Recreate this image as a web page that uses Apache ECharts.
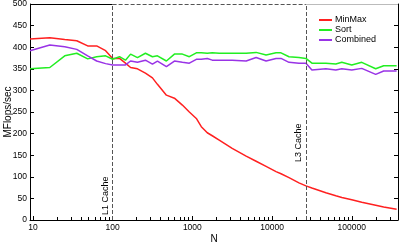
<!DOCTYPE html>
<html><head><meta charset="utf-8">
<script src="https://cdn.jsdelivr.net/npm/echarts@6/dist/echarts.min.js"></script>
<style>html,body{margin:0;padding:0;background:#fff}#c{width:399px;height:244px}</style>
</head><body><div id="c"></div>
<script>
const nValues = [9.2, 16.3, 25.1, 35.5, 48.7, 63.1, 81.7, 100, 122, 145, 168, 205, 258, 316, 365, 473, 596, 750, 917, 1122, 1296, 1540, 1778, 2175, 3162, 4732, 6310, 8414, 11220, 12960, 16310, 21750, 26610, 31620, 47320, 63100, 74990, 100000, 133400, 199500, 251200, 365200];
const minMax = [419, 422, 418, 415, 403, 403, 392, 374, 374, 363, 353, 350, 340, 329, 314, 289, 282, 266, 250, 235, 216, 202, 195, 185, 166, 148, 136, 124, 112, 107, 98, 86, 79, 74, 63, 56, 52, 47, 41, 34, 30, 25];
const sortV = [350, 353, 380, 386, 373, 378, 380, 372, 378, 370, 384, 376, 386, 378, 380, 368, 384, 384, 378, 387, 387, 386, 387, 386, 386, 386, 388, 382, 387, 387, 378, 376, 374, 363, 363, 361, 365, 359, 365, 350, 357, 357];
const combined = [392, 405, 401, 395, 380, 368, 362, 359, 359, 359, 368, 365, 370, 361, 368, 355, 368, 365, 363, 372, 372, 374, 370, 370, 370, 368, 376, 368, 374, 374, 365, 363, 363, 347, 350, 347, 350, 347, 351, 337, 345, 345];
const seriesNames = ['MinMax', 'Sort', 'Combined'];
const majorX = [10, 100, 1000, 10000, 100000];
const minorX = [20,30,40,50,60,70,80,90,200,300,400,500,600,700,800,900,2000,3000,4000,5000,6000,7000,8000,9000,20000,30000,40000,50000,60000,70000,80000,90000,200000,300000];
const xMin = 9.2, xMax = 380000;
const yMin = 0, yMax = 500, yStep = 50;
const cacheL1 = 100, cacheL3 = 26600;
const cacheLabels = ['L1 Cache', 'L3 Cache'];

const font = 'Liberation Sans, Arial, sans-serif';
const chart = echarts.init(document.getElementById('c'), null, {renderer: 'canvas'});
const mk = (vals) => nValues.map((n, i) => [n, vals[i]]);
const lineS = (name, vals, color) => ({
  name, type: 'line', data: mk(vals), showSymbol: false, symbol: 'none',
  lineStyle: {color, width: 1.5}, itemStyle: {color}, animation: false, z: 3
});
chart.setOption({
  animation: false,
  grid: {left: 30, right: 1, top: 4, bottom: 24, containLabel: false, outerBoundsMode: 'none'},
  legend: {
    data: seriesNames, orient: 'vertical', left: 314, top: 10,
    itemWidth: 13, itemHeight: 2, itemGap: 0, icon: 'rect',
    textStyle: {fontFamily: font, fontSize: 9, color: '#000', lineHeight: 10, padding: [0,0,0,-2]}
  },
  xAxis: [{
    type: 'log', logBase: 10, min: xMin, max: xMax,
    name: 'N', nameLocation: 'middle', nameGap: 14, nameMoveOverlap: false,
    nameTextStyle: {fontFamily: font, fontSize: 10, color: '#000'},
    axisLine: {show: true, lineStyle: {color: '#000', width: 1}},
    axisTick: {show: true, inside: true, length: 4, customValues: majorX, lineStyle: {color: '#000'}},
    axisLabel: {fontFamily: font, fontSize: 8.5, color: '#000', margin: 3, customValues: majorX, formatter: (v) => String(Math.round(v))},
    splitLine: {show: false}, minorTick: {show: false}
  }, {
    type: 'log', logBase: 10, min: xMin, max: xMax, position: 'bottom',
    axisLine: {show: false},
    axisTick: {show: true, inside: true, length: 3, customValues: minorX, lineStyle: {color: '#000'}},
    axisLabel: {show: false}, splitLine: {show: false}
  }],
  yAxis: [{
    type: 'value', min: yMin, max: yMax, interval: yStep,
    name: 'MFlops/sec', nameLocation: 'middle', nameGap: 17, nameMoveOverlap: false,
    nameTextStyle: {fontFamily: font, fontSize: 10, color: '#000'},
    axisLine: {show: true, lineStyle: {color: '#000', width: 1}},
    axisTick: {show: true, inside: true, length: 4, lineStyle: {color: '#000'}},
    axisLabel: {fontFamily: font, fontSize: 8.5, color: '#000', margin: 3},
    splitLine: {show: false}
  }, {
    type: 'value', min: yMin, max: yMax, interval: yStep, position: 'right',
    axisLine: {show: true, lineStyle: {color: '#000', width: 1}},
    axisTick: {show: true, inside: true, length: 4, lineStyle: {color: '#000'}},
    axisLabel: {show: false}, splitLine: {show: false}
  }],
  series: [
    lineS(seriesNames[0], minMax, '#ff2020'),
    lineS(seriesNames[1], sortV, '#22ee22'),
    lineS(seriesNames[2], combined, '#9933e6'),
    {
      name: 'frame', type: 'line', data: [], clip: false, silent: true, z: 2,
      markLine: {
        silent: true, symbol: ['none', 'none'], animation: false,
        data: [
          [{coord: [xMin, yMax], lineStyle: {color: '#000', type: 'solid', width: 1}, label: {show: false}}, {coord: [cacheL1, yMax]}],
          [{coord: [cacheL1, yMax], lineStyle: {color: '#555', type: [4, 2], width: 1}, label: {show: false}}, {coord: [cacheL3, yMax]}],
          [{coord: [cacheL3, yMax], lineStyle: {color: '#bbb', type: 'solid', width: 1}, label: {show: false}}, {coord: [xMax, yMax]}],
          [{coord: [cacheL1, yMin], lineStyle: {color: '#555', type: [4, 2], width: 1},
            label: {show: true, formatter: cacheLabels[0], position: 'insideStartTop', distance: 3, padding: [0, 0, 0, 2], fontFamily: font, fontSize: 9, color: '#000'}},
           {coord: [cacheL1, yMax]}],
          [{coord: [cacheL3, yMin], lineStyle: {color: '#555', type: [4, 2], width: 1},
            label: {show: true, formatter: cacheLabels[1], position: 'insideStartTop', distance: 3, padding: [0, 0, 0, 55], fontFamily: font, fontSize: 9, color: '#000'}},
           {coord: [cacheL3, yMax]}]
        ]
      }
    }
  ]
});
</script></body></html>
